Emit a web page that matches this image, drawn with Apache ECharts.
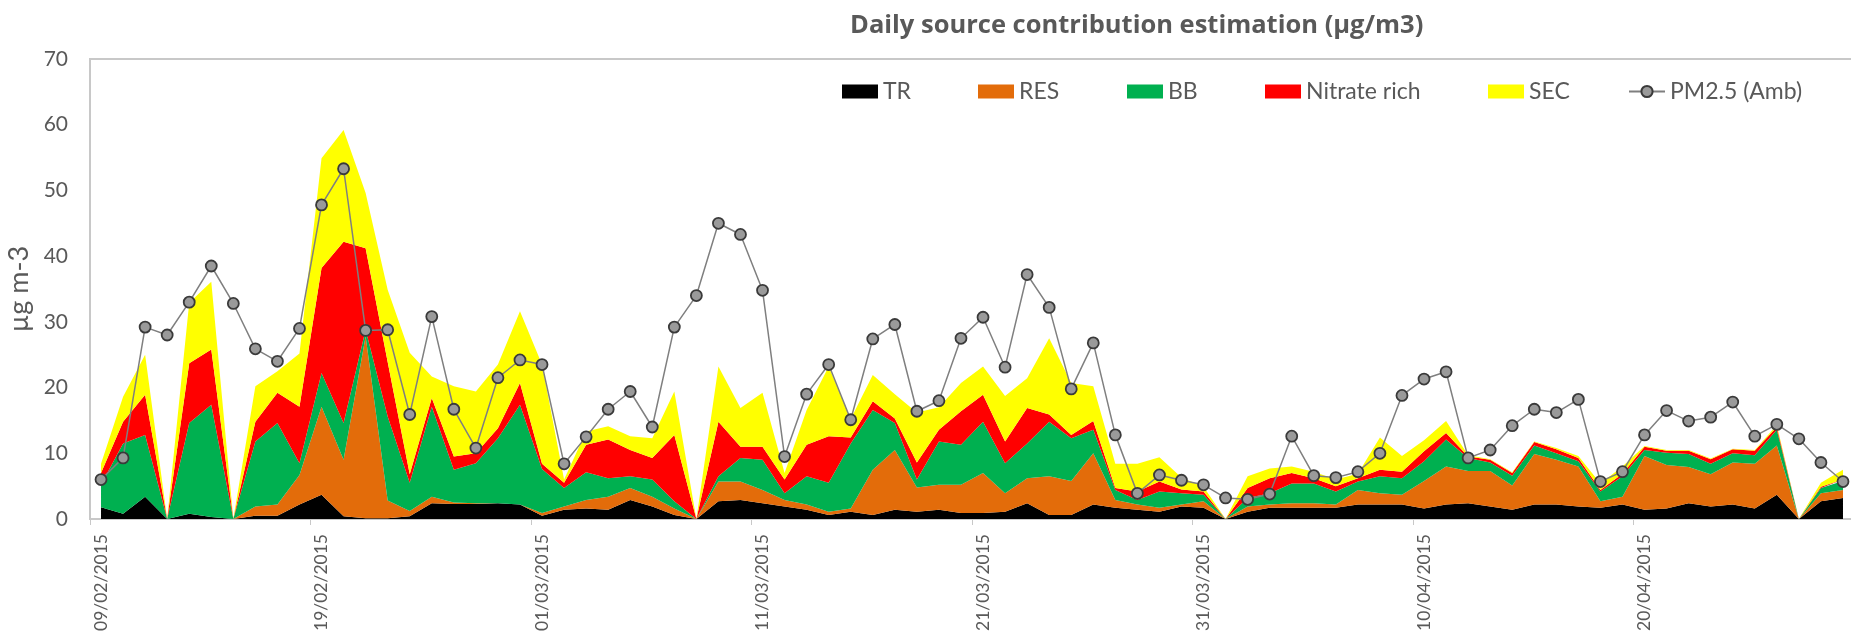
<!DOCTYPE html>
<html>
<head>
<meta charset="utf-8">
<script src="https://cdn.jsdelivr.net/npm/echarts@6/dist/echarts.min.js"></script>
<style>
html,body{margin:0;padding:0;background:#fff;}
#chart{width:1851px;height:633px;}
</style>
</head>
<body>
<div id="chart"></div>
<script>
const dates = [
"09/02/2015","10/02/2015","11/02/2015","12/02/2015","13/02/2015","14/02/2015","15/02/2015","16/02/2015","17/02/2015","18/02/2015",
"19/02/2015","20/02/2015","21/02/2015","22/02/2015","23/02/2015","24/02/2015","25/02/2015","26/02/2015","27/02/2015","28/02/2015",
"01/03/2015","02/03/2015","03/03/2015","04/03/2015","05/03/2015","06/03/2015","07/03/2015","08/03/2015","09/03/2015","10/03/2015",
"11/03/2015","12/03/2015","13/03/2015","14/03/2015","15/03/2015","16/03/2015","17/03/2015","18/03/2015","19/03/2015","20/03/2015",
"21/03/2015","22/03/2015","23/03/2015","24/03/2015","25/03/2015","26/03/2015","27/03/2015","28/03/2015","29/03/2015","30/03/2015",
"31/03/2015","01/04/2015","02/04/2015","03/04/2015","04/04/2015","05/04/2015","06/04/2015","07/04/2015","08/04/2015","09/04/2015",
"10/04/2015","11/04/2015","12/04/2015","13/04/2015","14/04/2015","15/04/2015","16/04/2015","17/04/2015","18/04/2015","19/04/2015",
"20/04/2015","21/04/2015","22/04/2015","23/04/2015","24/04/2015","25/04/2015","26/04/2015","27/04/2015","28/04/2015","29/04/2015"
];

const TR = [
1.8,0.8,3.4,0,0.8,0.3,0,0.5,0.5,2.2,
3.7,0.4,0.1,0.1,0.4,2.4,2.3,2.3,2.4,2.2,
0.5,1.4,1.6,1.4,2.9,1.9,0.6,0,2.7,2.9,
2.4,1.9,1.4,0.6,1.1,0.6,1.4,1.1,1.4,0.9,
0.9,1.1,2.4,0.6,0.6,2.2,1.7,1.4,1.1,1.9,
1.7,0,1.1,1.7,1.7,1.7,1.7,2.2,2.2,2.2,
1.6,2.2,2.4,1.9,1.4,2.2,2.2,1.9,1.7,2.2,
1.4,1.6,2.4,1.9,2.2,1.6,3.7,0,2.7,3.2
];
const RES = [
0,0,0,0,0,0,0,1.4,1.7,4.5,
13.4,8.6,27.7,2.7,0.8,1.0,0.2,0.1,0,0,
0.4,0.5,1.3,2.0,1.8,1.5,1.0,0,3.0,2.8,
2.0,1.0,0.8,0.5,0.5,6.9,9.1,3.7,3.8,4.3,
6.1,2.8,3.8,5.9,5.2,7.8,1.2,0.8,0.6,0.3,
1.0,0,0.8,0.5,0.7,0.7,0.5,2.2,1.7,1.5,
4.2,5.8,4.9,5.4,3.7,7.7,6.8,6.1,1.0,1.2,
8.2,6.6,5.5,4.9,6.4,6.8,7.5,0,1.2,1.2
];
const BB = [
3.4,10.7,9.4,0,13.8,17.1,0,9.9,12.4,1.8,
5.1,5.6,1.0,12.8,4.3,13.7,5.0,6.1,9.9,15.2,
6.7,2.8,4.2,2.8,1.8,2.6,1.1,0,0.8,3.6,
4.6,1.0,4.3,4.4,9.9,9.1,4.1,1.2,6.6,6.1,
7.8,4.6,5.3,8.3,6.5,3.6,1.5,0.7,2.5,1.7,
1.0,0,1.3,1.7,3.0,3.0,2.0,1.3,2.6,2.5,
3.0,4.1,2.0,1.3,1.5,1.3,1.0,0.8,1.5,3.1,
0.9,1.9,2.0,1.6,1.4,1.3,2.4,0,0.8,1.4
];
const NITRATE = [
1.8,3.3,6.1,0,9.1,8.4,0,3.0,4.6,8.6,
16.0,27.6,12.4,8.3,1.3,1.3,2.0,1.5,1.5,3.3,
0.8,0.8,4.2,5.9,4.0,3.3,10.1,0,8.3,1.7,
2.0,2.1,4.8,7.1,0.9,1.3,0.7,2.6,1.8,5.1,
4.1,3.3,5.4,1.1,0.5,1.3,0.3,1.3,1.5,0.6,
0.5,0,1.5,2.3,1.6,0.8,0.8,0.5,1.0,1.0,
1.5,1.0,0.2,0.4,0.4,0.5,0.6,0.5,0.2,0.4,
0.5,0.3,0.5,0.7,0.6,0.7,0.4,0,0.2,0.2
];
const SEC = [
1.4,3.8,6.1,0,9.2,10.3,0,5.4,3.3,8.1,
16.7,17.0,8.4,11.0,18.5,3.3,10.7,9.4,9.7,10.9,
15.1,0.5,2.0,2.0,2.1,3.0,6.6,0,8.4,5.9,
8.2,1.0,5.3,10.6,2.8,4.0,3.7,7.6,3.4,4.3,
4.3,6.9,4.5,11.6,7.9,5.3,3.7,4.2,3.7,1.8,
0.7,0,1.8,1.5,1.0,1.0,1.0,0.7,4.9,2.4,
1.7,1.8,0.2,0.1,0.1,0.1,0.2,0.3,1.0,1.1,
0.1,0.1,0.1,0.1,0.1,0.1,0.3,0,0.6,1.5
];
const PM25 = [
6.0,9.3,29.2,28.0,33.0,38.5,32.8,25.9,24.0,29.0,
47.8,53.3,28.7,28.8,15.9,30.8,16.7,10.8,21.5,24.2,
23.5,8.4,12.5,16.7,19.4,14.0,29.2,34.0,45.0,43.3,
34.8,9.5,19.0,23.5,15.1,27.4,29.6,16.4,18.0,27.5,
30.7,23.1,37.2,32.2,19.8,26.8,12.8,3.9,6.7,5.9,
5.2,3.2,3.0,3.8,12.6,6.6,6.3,7.2,10.0,18.8,
21.3,22.4,9.3,10.5,14.2,16.7,16.2,18.2,5.7,7.2,
12.8,16.5,14.9,15.5,17.8,12.6,14.4,12.2,8.6,5.7
];
const yTicks = {min: 0, max: 70, step: 10};

const FONT = 'Lato';
const TXT = '#595959';

function areaSeries(name, data, color) {
  return {
    name: name, type: 'line', stack: 'src', data: data,
    symbol: 'none', showSymbol: false,
    lineStyle: {width: 0, color: color},
    itemStyle: {color: color},
    areaStyle: {color: color, opacity: 1},
    emphasis: {disabled: true}
  };
}
function oneLegend(name, left, icon) {
  const lg = {
    data: [name], left: left, top: 80,
    itemWidth: 36, itemHeight: 14, itemGap: 0,
    padding: 0,
    textStyle: {fontFamily: FONT, fontSize: 23, color: TXT},
    selectedMode: false
  };
  if (icon) lg.icon = icon;
  return lg;
}

const chart = echarts.init(document.getElementById('chart'), null, {renderer: 'canvas'});
chart.setOption({
  animation: false,
  backgroundColor: '#ffffff',
  title: {
    text: 'Daily source contribution estimation (\u00b5g/m3)',
    left: 845, top: 8,
    textStyle: {fontFamily: 'Open Sans', fontSize: 25.5, fontWeight: 'bold', color: TXT}
  },
  legend: [
    oneLegend('TR', 842, 'rect'),
    oneLegend('RES', 978, 'rect'),
    oneLegend('BB', 1127, 'rect'),
    oneLegend('Nitrate rich', 1265, 'rect'),
    oneLegend('SEC', 1488, 'rect'),
    oneLegend('PM2.5 (Amb)', 1628)
  ],
  grid: {
    left: 90, top: 59, bottom: 114, right: -3,
    containLabel: false, outerBoundsMode: 'none',
    show: true, borderColor: '#c8c8c8', borderWidth: 2, backgroundColor: 'transparent'
  },
  xAxis: {
    type: 'category', data: dates, boundaryGap: true,
    axisLine: {show: true, lineStyle: {color: '#c8c8c8', width: 2}},
    axisTick: {show: true, interval: 9, length: 6, lineStyle: {color: '#c8c8c8', width: 1}},
    axisLabel: {interval: 9, rotate: 90, margin: 15, fontFamily: FONT, fontSize: 17.5, color: TXT},
    splitLine: {show: false}
  },
  yAxis: {
    type: 'value', min: yTicks.min, max: yTicks.max, interval: yTicks.step,
    name: '\u00b5g m-3', nameLocation: 'middle', nameRotate: 90, nameGap: 46,
    nameTextStyle: {fontFamily: FONT, fontSize: 27, color: TXT},
    axisLine: {show: false}, axisTick: {show: false}, splitLine: {show: false},
    axisLabel: {margin: 22, fontFamily: FONT, fontSize: 21, color: TXT}
  },
  series: [
    areaSeries('TR', TR, '#000000'),
    areaSeries('RES', RES, '#E36C0A'),
    areaSeries('BB', BB, '#00B050'),
    areaSeries('Nitrate rich', NITRATE, '#FF0000'),
    areaSeries('SEC', SEC, '#FFFF00'),
    {
      name: 'PM2.5 (Amb)', type: 'line', data: PM25, z: 5,
      symbol: 'circle', symbolSize: 11, showSymbol: true,
      lineStyle: {color: '#7f7f7f', width: 1.5},
      itemStyle: {color: '#9a9a9a', borderColor: '#3a3a3a', borderWidth: 1.8},
      emphasis: {disabled: true}
    }
  ]
});
</script>
</body>
</html>
